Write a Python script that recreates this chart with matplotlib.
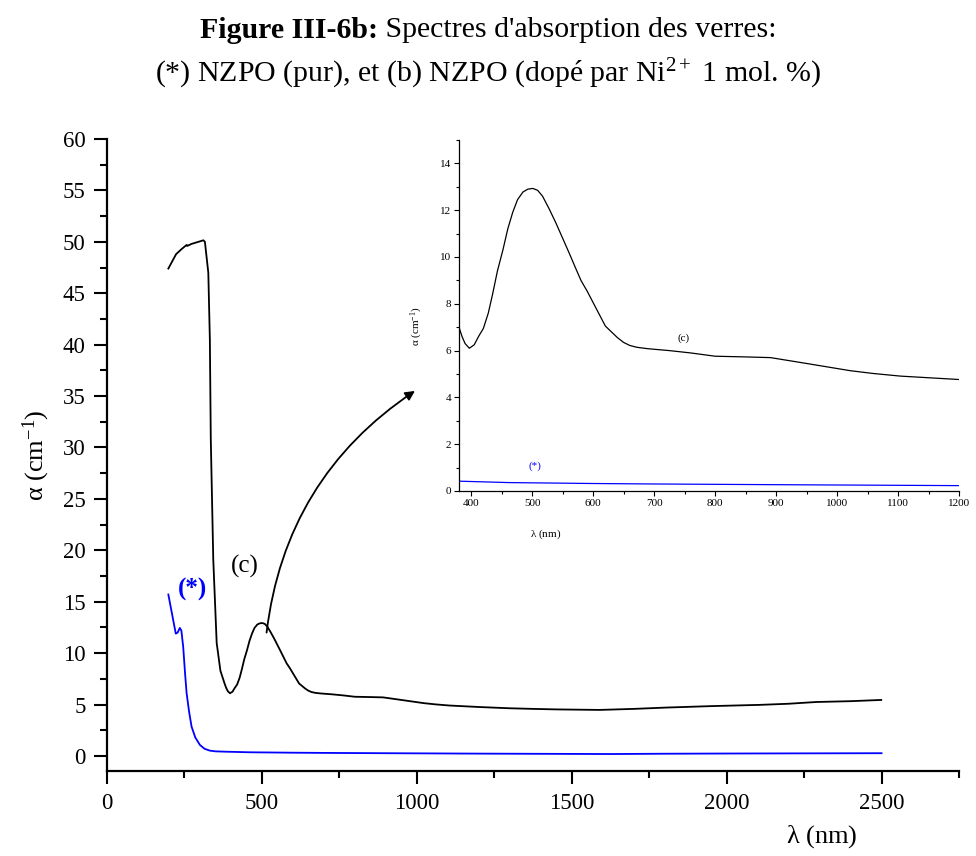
import matplotlib
matplotlib.use('Agg')
import matplotlib.pyplot as plt
from matplotlib.ticker import MultipleLocator

plt.rcParams['font.family'] = ['Liberation Serif', 'DejaVu Serif']
plt.rcParams['mathtext.fontset'] = 'custom'
plt.rcParams['mathtext.rm'] = 'Liberation Serif'
plt.rcParams['mathtext.it'] = 'Liberation Serif:italic'
plt.rcParams['mathtext.bf'] = 'Liberation Serif:bold'

# (c) NZPO doped with Ni2+ : wavelength (nm), alpha (cm-1)
wl_c = [198, 223, 241, 257, 259, 273, 295, 311, 316, 327, 332, 335, 343, 354, 366,
        380, 385, 390, 397, 405, 412, 420, 428, 435, 443, 452, 460, 468, 476, 485,
        493, 501, 509, 517, 528, 539, 550, 561, 570, 580, 590, 599, 611, 620, 630,
        640, 650, 660, 672, 690, 725, 760, 800, 850, 891, 950, 1022, 1060, 1104, 1150,
        1203, 1300, 1375, 1450, 1590, 1700, 1806, 1950, 2106, 2200, 2289, 2400, 2499]
alpha_c = [47.4, 48.8, 49.3, 49.7, 49.6, 49.8, 50.0, 50.15, 50.0, 47.0, 40.5, 30.8, 19.1, 11.0, 8.3,
           7.0, 6.6, 6.3, 6.1, 6.25, 6.6, 6.95, 7.6, 8.4, 9.4, 10.3, 11.2, 11.9, 12.45, 12.78,
           12.9, 12.93, 12.85, 12.6, 12.05, 11.45, 10.8, 10.15, 9.6, 9.0, 8.55, 8.1, 7.5, 7.05, 6.8,
           6.55, 6.35, 6.22, 6.14, 6.08, 6.0, 5.9, 5.76, 5.73, 5.70, 5.45, 5.14, 5.02, 4.91, 4.84,
           4.76, 4.64, 4.58, 4.53, 4.48, 4.58, 4.71, 4.85, 4.97, 5.08, 5.25, 5.33, 5.45]

# (*) NZPO pure
wl_p = [198, 210, 222, 228, 235, 240, 246, 252, 257, 265, 273, 285, 300, 315, 332,
        350, 380, 461, 600, 700, 900, 1200, 1623, 1800, 2000, 2500]
alpha_p = [15.7, 13.8, 11.9, 12.0, 12.45, 12.2, 10.6, 8.0, 6.1, 4.3, 2.85, 1.8, 1.07, 0.7, 0.52,
           0.45, 0.42, 0.36, 0.32, 0.30, 0.27, 0.23, 0.19, 0.22, 0.24, 0.27]

W, H = 976, 856
fig = plt.figure(figsize=(W / 100, H / 100), dpi=100)

# main plot
ax = fig.add_axes([107 / W, 85 / H, 852 / W, 632 / H])
ax.plot(wl_c, alpha_c, color='black', lw=1.3)
ax.plot(wl_p, alpha_p, color='#0000ff', lw=1.3)
ax.set_xlim(0, 2750)
ax.set_ylim(-1.46, 60)
ax.xaxis.set_major_locator(MultipleLocator(500))
ax.xaxis.set_minor_locator(MultipleLocator(250))
ax.yaxis.set_major_locator(MultipleLocator(5))
ax.yaxis.set_minor_locator(MultipleLocator(2.5))
for s in ['top', 'right']:
    ax.spines[s].set_visible(False)
for s in ['left', 'bottom']:
    ax.spines[s].set_linewidth(1.6)
ax.tick_params(which='major', direction='out', length=9.5, width=1.5, labelsize=16.5, pad=6)
ax.tick_params(which='minor', direction='out', length=5, width=1.5)
ax.set_xlabel(r'$\mathrm{\lambda}$ (nm)', fontsize=19)
ax.xaxis.set_label_coords(0.839, -0.082)
ax.set_ylabel(r'$\mathrm{\alpha}$ (cm$^{-1}$)', fontsize=19)
ax.yaxis.set_label_coords(-0.064, 0.5)
ax.text(445, 18.4, '(c)', fontsize=18, ha='center', va='center')
ax.text(276, 16.2, '(*)', fontsize=18, ha='center', va='center', color='#0000ff', weight='bold')
ax.annotate('', xy=(994, 35.5), xytext=(515, 12.0),
            arrowprops=dict(arrowstyle='-|>', color='black', lw=1.3,
                            connectionstyle='arc3,rad=-0.23', mutation_scale=14,
                            shrinkA=0, shrinkB=0))

# inset
ins = fig.add_axes([459 / W, 365 / H, 500 / W, 351 / H])
ins.patch.set_alpha(0)
ins.plot(wl_c, alpha_c, color='black', lw=0.9)
ins.plot(wl_p, alpha_p, color='#0000ff', lw=0.9)
ins.set_xlim(380, 1200)
ins.set_ylim(0, 15)
ins.xaxis.set_major_locator(MultipleLocator(100))
ins.xaxis.set_minor_locator(MultipleLocator(50))
ins.yaxis.set_major_locator(MultipleLocator(2))
ins.yaxis.set_minor_locator(MultipleLocator(1))
for s in ['top', 'right']:
    ins.spines[s].set_visible(False)
for s in ['left', 'bottom']:
    ins.spines[s].set_linewidth(0.9)
ins.tick_params(which='major', direction='out', length=3.5, width=0.8, labelsize=8, pad=2)
ins.tick_params(which='minor', direction='out', length=2, width=0.8)
ins.set_xlabel(r'$\mathrm{\lambda}$ (nm)', fontsize=8)
ins.xaxis.set_label_coords(0.174, -0.105)
ins.set_ylabel(r'$\mathrm{\alpha}$ (cm$^{-1}$)', fontsize=8)
ins.yaxis.set_label_coords(-0.068, 0.47)
ins.text(748, 6.54, '(c)', fontsize=8, ha='center', va='center')
ins.text(505, 1.07, '(*)', fontsize=8, ha='center', va='center', color='#0000ff')

# two-line title, first part of line 1 in bold
fig.canvas.draw()
r = fig.canvas.get_renderer()
t1 = fig.text(0, 1 - 30 / H, 'Figure III-6b:', fontsize=21.5, weight='bold', va='center')
t2 = fig.text(0, 1 - 30 / H, " Spectres d'absorption des verres:", fontsize=21.5, va='center')
w1 = t1.get_window_extent(r).width
w2 = t2.get_window_extent(r).width
x0 = (W - w1 - w2) / 2
t1.set_x(x0 / W)
t2.set_x((x0 + w1) / W)
fig.text(0.5, 1 - 74 / H, '(*) NZPO (pur), et (b) NZPO (dopé par Ni$^{2+}$ 1 mol. %)',
         fontsize=21.5, ha='center', va='center')

fig.savefig('out.png', dpi=100)
